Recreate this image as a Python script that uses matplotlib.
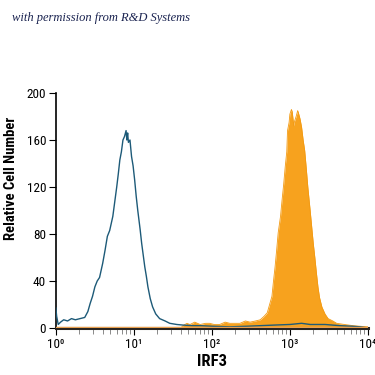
import numpy as np
import matplotlib.pyplot as plt
from matplotlib.ticker import LogLocator, FixedLocator

# isotype control (blue outline), log10 of intensity vs count
ctrl_logx = [0.0, 0.01, 0.03, 0.06, 0.10, 0.15, 0.20, 0.25, 0.31, 0.37, 0.41, 0.44,
             0.47, 0.50, 0.53, 0.56, 0.60, 0.63, 0.66, 0.69, 0.73, 0.76, 0.78, 0.80,
             0.82, 0.84, 0.86, 0.88, 0.90, 0.91, 0.92, 0.93, 0.95, 0.97, 0.99, 1.01,
             1.03, 1.05, 1.08, 1.10, 1.12, 1.14, 1.16, 1.18, 1.21, 1.24, 1.28, 1.33,
             1.40, 1.46, 1.55, 1.63, 1.75, 1.85, 2.0, 2.23, 2.45, 2.62, 2.80, 3.0,
             3.15, 3.26, 3.45, 3.64, 3.80, 3.9, 4.0]
ctrl_count = [17, 10, 3, 5, 7, 6, 8, 7, 8, 9, 14, 21,
              27, 35, 40, 43, 55, 66, 78, 83, 95, 110, 120, 131,
              143, 150, 160, 163, 168, 160, 166, 158, 160, 146, 138, 126,
              112, 100, 84, 72, 62, 52, 44, 35, 25, 18, 12, 8,
              6, 4, 3, 2.5, 2, 2, 1.5, 1, 1.5, 2, 2.5, 3,
              4, 3, 3, 2, 1.5, 1, 0]

# IRF3 stained (orange filled)
irf3_logx = [1.60, 1.63, 1.68, 1.72, 1.78, 1.85, 1.92, 1.97, 2.03, 2.10, 2.17, 2.23,
             2.30, 2.36, 2.43, 2.49, 2.56, 2.62, 2.67, 2.71, 2.74, 2.77, 2.79, 2.81,
             2.83, 2.85, 2.88, 2.90, 2.92, 2.94, 2.96, 2.97, 2.99, 3.00, 3.02, 3.03,
             3.04, 3.05, 3.06, 3.08, 3.10, 3.11, 3.13, 3.15, 3.17, 3.19, 3.21, 3.23,
             3.26, 3.28, 3.30, 3.32, 3.34, 3.36, 3.38, 3.41, 3.45, 3.49, 3.55, 3.60,
             3.70, 3.81, 3.90, 4.0]
irf3_count = [0, 2, 4, 3, 5, 3, 4, 4, 3, 3, 5, 4,
              4, 4, 6, 5, 6, 7, 10, 13, 20, 27, 40, 52,
              66, 81, 95, 109, 122, 137, 150, 168, 175, 182, 186, 184,
              178, 172, 176, 180, 185, 183, 178, 171, 160, 151, 136, 120,
              100, 86, 72, 60, 47, 35, 26, 18, 12, 8, 6, 4,
              3, 2, 1.5, 1]

tick_labels = ['10\u2070', '10\u00b9', '10\u00b2', '10\u00b3', '10\u2074']

plt.rcParams['font.family'] = ['Roboto Condensed', 'Open Sans Condensed',
                               'DejaVu Sans']
plt.rcParams['font.stretch'] = 'condensed'

fig = plt.figure(figsize=(3.75, 3.75), dpi=100)
ax = fig.add_axes([0.149, 0.1253, 0.832, 0.6267])

ix = 10 ** np.array(irf3_logx)
cx = 10 ** np.array(ctrl_logx)
ax.fill_between(ix, 0, irf3_count, color='#f7a21e', linewidth=0, zorder=2)
ax.plot(ix, irf3_count, color='#f39a12', lw=0.6, zorder=2)
ax.plot(cx, ctrl_count, color='#1d5a78', lw=1.0, zorder=3)
ax.axhline(1.2, color='#e8a050', lw=1.0, zorder=4)

ax.set_xscale('log')
ax.set_xlim(1, 1e4)
ax.set_ylim(0, 200)
ax.set_yticks([0, 40, 80, 120, 160, 200])
ax.xaxis.set_major_locator(FixedLocator([1, 10, 100, 1000, 10000]))
ax.xaxis.set_minor_locator(LogLocator(base=10, subs=np.arange(2, 10), numticks=20))
ax.set_xticklabels(tick_labels)

for s in ['top', 'right']:
    ax.spines[s].set_visible(False)
ax.spines['left'].set_linewidth(1.2)
ax.spines['bottom'].set_linewidth(2.2)
ax.spines['bottom'].set_color('#2a2520')
ax.tick_params(axis='both', which='major', labelsize=9.5, length=5, width=0.8,
               direction='out', pad=2)
ax.tick_params(axis='x', which='minor', length=4, width=0.6, color='#777777')

ax.set_ylabel('Relative Cell Number', fontsize=10.5, fontweight='bold')
ax.yaxis.set_label_coords(-0.122, 0.638)
ax.set_xlabel('IRF3', fontsize=12, fontweight='bold', labelpad=2)

fig.text(0.032, 0.952, 'with permission from R&D Systems', fontsize=9,
         style='italic', family='Liberation Serif', stretch='normal',
         color='#1a2350', va='center', ha='left')

fig.savefig('out.png', dpi=100, facecolor='white')
